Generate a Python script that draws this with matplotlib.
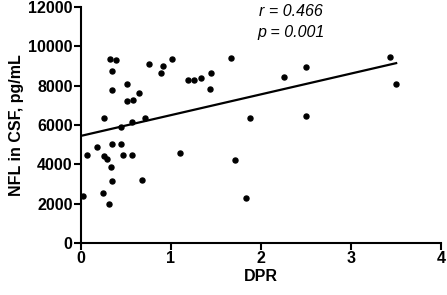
import matplotlib
matplotlib.use("Agg")
import matplotlib.pyplot as plt
import numpy as np

plt.rcParams['font.family'] = ['Liberation Sans', 'DejaVu Sans']

# DPR vs NFL (pg/mL)
dpr = [0.02, 0.07, 0.18, 0.24, 0.26, 0.26, 0.29, 0.31, 0.32, 0.34, 0.34, 0.33,
       0.34, 0.34, 0.39, 0.44, 0.45, 0.47, 0.51, 0.51, 0.57, 0.57, 0.58, 0.64,
       0.68, 0.71, 0.76, 0.89, 0.91, 1.01, 1.10, 1.19, 1.26, 1.33, 1.44, 1.43,
       1.67, 1.71, 1.83, 1.88, 2.25, 2.50, 2.50, 3.43, 3.50]
nfl = [2400, 4470, 4870, 2530, 6370, 4420, 4290, 1980, 9370, 8740, 7760, 3880,
       3150, 5030, 9300, 5900, 5020, 4490, 8100, 7230, 4490, 6140, 7300, 7640,
       3190, 6340, 9100, 8630, 8980, 9350, 4580, 8270, 8300, 8400, 8640, 7810,
       9400, 4200, 2270, 6370, 8440, 8960, 6440, 9460, 8080]

# regression line as drawn
intercept = 5450
slope = 1057
line_x = [0, 3.5]

xticks = [0, 1, 2, 3, 4]
yticks = [0, 2000, 4000, 6000, 8000, 10000, 12000]

fig = plt.figure(figsize=(4.47, 2.95), dpi=100)
ax = fig.add_axes([0.181, 0.176, 0.806, 0.80])

ax.plot(dpr, nfl, 'o', color='black', markersize=3.6, clip_on=False)
lx = np.array(line_x)
ax.plot(lx, intercept + slope * lx, color='black', lw=1.6)

ax.set_xlim(0, 4)
ax.set_ylim(0, 12000)
ax.set_xticks(xticks)
ax.set_yticks(yticks)
for s in ['top', 'right']:
    ax.spines[s].set_visible(False)
for s in ['left', 'bottom']:
    ax.spines[s].set_linewidth(1.5)
ax.tick_params(width=1.5, length=5, direction='out', labelsize=11.5, pad=1)
for lab in ax.get_xticklabels() + ax.get_yticklabels():
    lab.set_fontweight('bold')

ax.set_xlabel('DPR', fontsize=11.5, fontweight='bold', labelpad=2)
ax.set_ylabel('NFL in CSF, pg/mL', fontsize=11.5, fontweight='bold', labelpad=3)

ax.text(2.33, 11750, 'r = 0.466', fontsize=11.5, style='italic', ha='center', va='center')
ax.text(2.33, 10730, 'p = 0.001', fontsize=11.5, style='italic', ha='center', va='center')

fig.savefig('out.png', dpi=100)
